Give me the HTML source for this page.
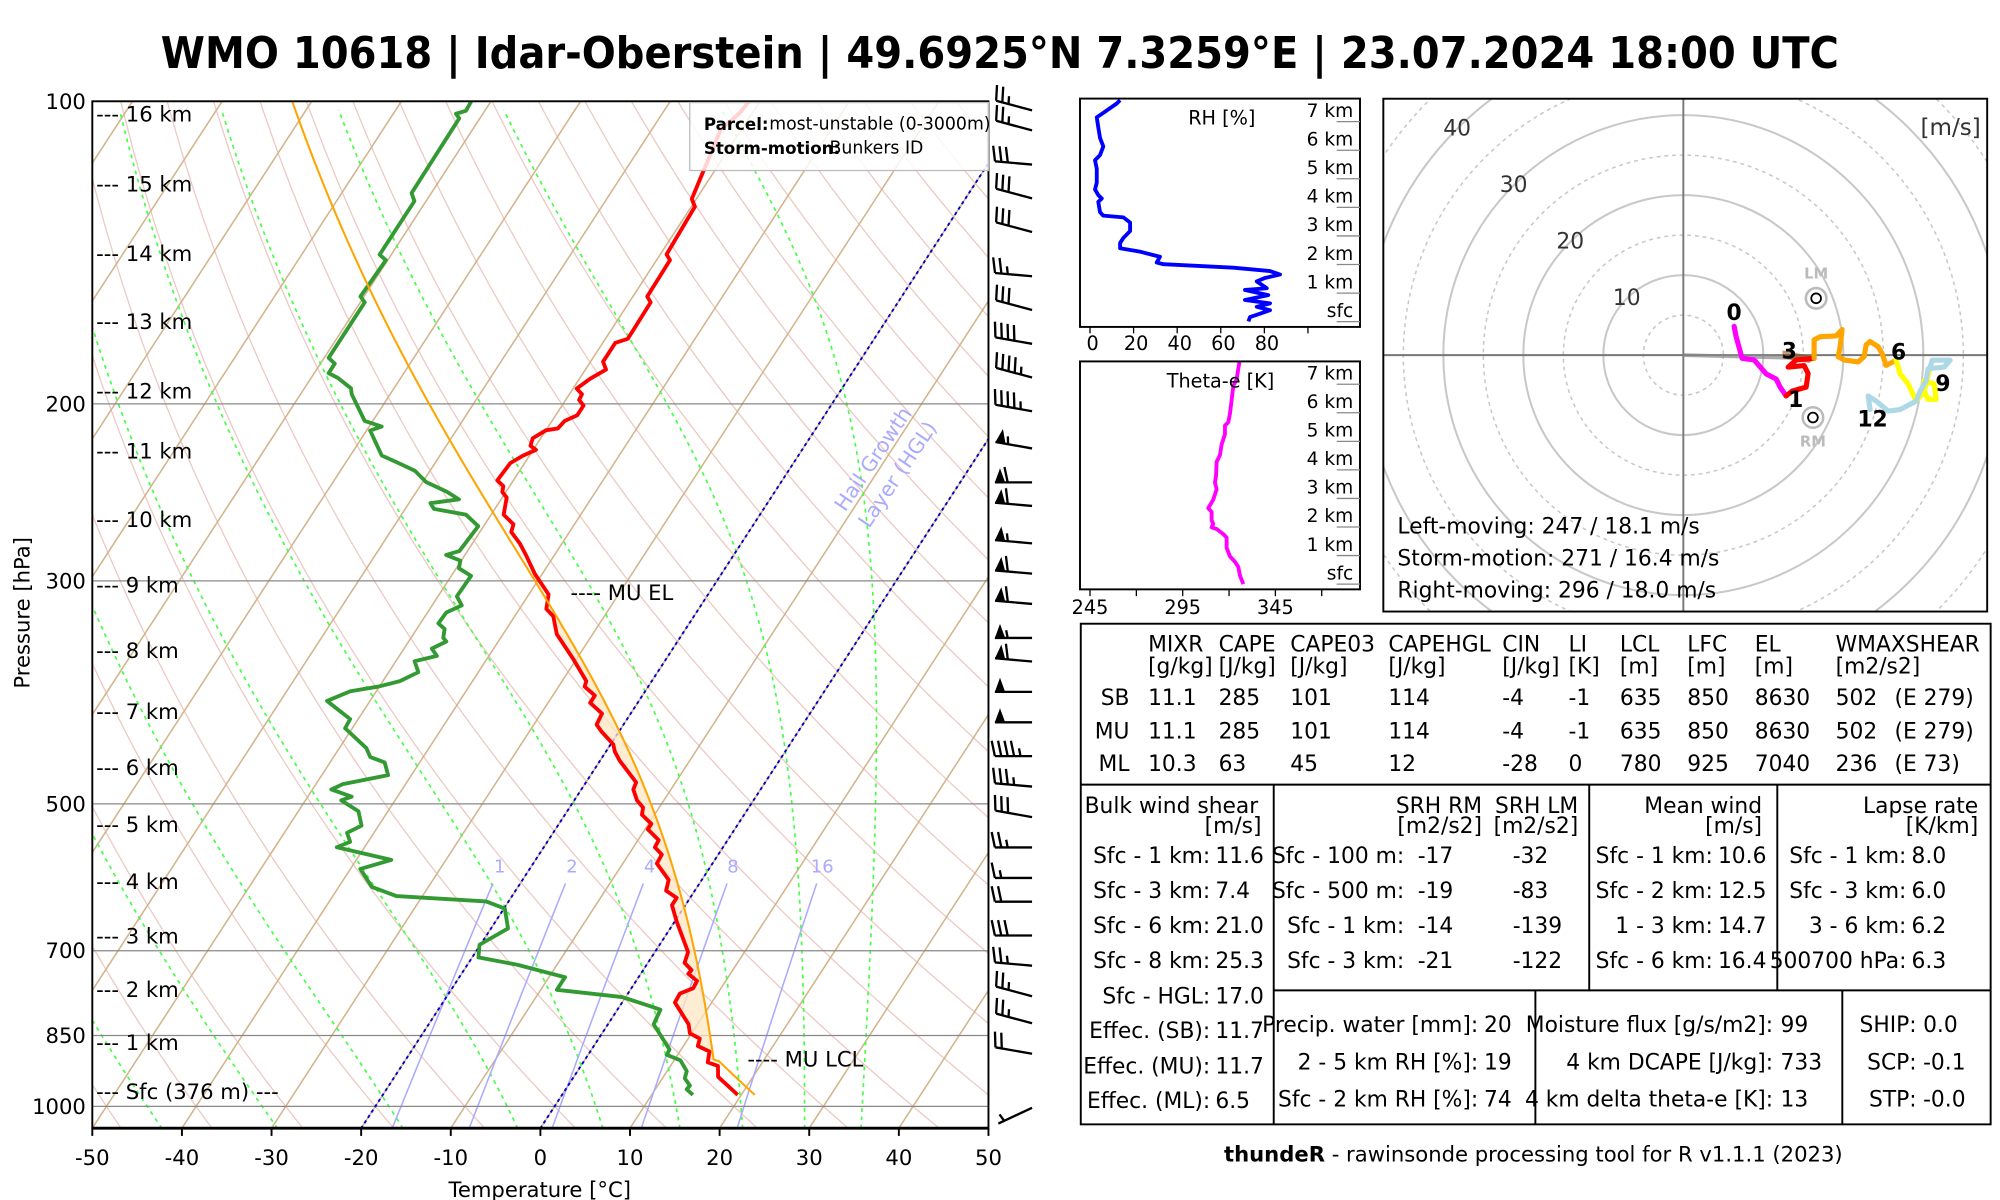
<!DOCTYPE html>
<html><head><meta charset="utf-8"><title>Sounding</title>
<style>html,body{margin:0;padding:0;background:#fff;}svg{display:block;font-family:"DejaVu Sans","Liberation Sans",sans-serif;}</style>
</head><body>
<svg id="root" xmlns="http://www.w3.org/2000/svg" width="2000" height="1200" viewBox="0 0 1560 936">
<rect x="0" y="0" width="1560" height="936" fill="#fff"/>
<text x="125.4" y="53" font-size="34" font-weight="bold" textLength="1309" lengthAdjust="spacingAndGlyphs">WMO 10618 | Idar-Oberstein | 49.6925°N 7.3259°E | 23.07.2024 18:00 UTC</text>
<defs>
<clipPath id="skewclip"><rect x="72" y="79" width="699" height="801"/></clipPath>
<clipPath id="hodoclip"><rect x="1079" y="77" width="471" height="400"/></clipPath>
</defs>
<g id="skew" clip-path="url(#skewclip)"></g>
<g id="skewover"></g>
<g id="barbs"></g>
<g id="rh"></g>
<g id="the"></g>
<g id="hodo"></g>
<g id="table" font-size="17"></g>
<text x="1196" y="906" font-size="16.5" text-anchor="middle"><tspan font-weight="bold">thundeR</tspan> - rawinsonde processing tool for R v1.1.1 (2023)</text>
</svg>
<script>
// ---------- DATA ----------
const P_TEMP = [100,102.7,106.8,125.1,127.3,142.0,143.9,156.4,158.5,172.3,173.9,181.6,184.9,188.8,193.1,195.6,198.2,200.8,205.3,208.0,211.6,212.5,216.4,220.2,222.2,225.1,229.1,238.3,241.5,244.7,247.9,257.8,263.6,268.2,275.4,282.7,295.4,309.5,319.9,325.3,339.0,359.2,377.5,382.2,390.2,396.7,406.6,417.0,424.0,436.4,443.7,453.0,476.0,483.8,496.0,504.3,512.7,523.4,530.0,543.3,552.3,561.6,573.3,595.1,610.1,620.2,630.6,654.5,702.1,719.8,731.8,737.9,750.2,762.8,772.2,788.3,828.5,845.8,856.4,870.8,881.7,904.0,911.5,934.4,957.9,973.9];
const T_TEMP = [-51.2,-51.4,-52.3,-50.5,-49.6,-49.3,-48.5,-48.4,-47.6,-47.5,-48.6,-48.6,-47.7,-48.8,-49.6,-48.6,-48.5,-47.6,-47.6,-48.6,-48.8,-50.0,-50.9,-50.6,-49.7,-50.7,-51.6,-51.8,-50.7,-50.4,-49.5,-48.6,-46.8,-46.5,-44.7,-43.2,-40.8,-37.8,-37.0,-35.7,-34.0,-30.3,-27.3,-27.1,-25.3,-25.3,-23.2,-23.0,-21.9,-19.7,-19.0,-17.8,-14.4,-14.2,-13.0,-11.8,-11.4,-9.7,-9.7,-7.7,-7.6,-6.3,-6.2,-3.7,-3.2,-1.5,-1.5,0.2,3.7,4.1,5.4,5.3,6.8,6.9,5.8,5.9,9.0,9.8,11.3,11.6,13.3,13.9,15.3,16.1,18.2,19.6];
const P_DEW = [100,102.2,102.9,104.0,123.4,125.7,142.1,143.9,156.4,158.5,180.0,182.4,186.4,188.5,193.0,195.6,208.0,210.7,212.6,225.1,229.0,233.1,239.3,244.6,248.9,251.1,254.4,257.8,264.7,280.2,282.7,286.4,291.5,296.6,310.8,317.3,322.6,330.7,334.9,341.9,344.7,350.4,356.3,360.7,369.8,377.5,382.2,386.3,395.0,411.8,420.5,440.0,449.2,454.8,468.2,477.9,483.8,491.9,496.0,508.5,525.6,534.3,545.5,552.3,568.5,580.4,604.9,617.6,625.3,635.6,665.2,690.5,710.8,722.7,743.8,765.6,778.4,794.8,801.2,828.5,852.7,877.7,888.7,899.8,922.5,937.9,953.5,961.5,973.9];
const T_DEW = [-82.2,-82.1,-83.0,-82.3,-82.2,-81.3,-81.3,-80.2,-80.4,-79.5,-79.5,-78.4,-78.4,-77.0,-74.8,-74.3,-70.9,-68.6,-69.6,-66.5,-64.1,-61.7,-59.6,-56.6,-54.7,-57.6,-56.8,-52.8,-50.6,-50.9,-52.1,-50.1,-49.7,-47.8,-47.9,-46.7,-47.9,-48.0,-46.9,-46.4,-45.8,-46.9,-45.8,-47.9,-46.7,-48.1,-50.1,-52.9,-54.8,-50.9,-50.8,-47.0,-45.9,-43.9,-42.6,-47.0,-47.9,-45.1,-46.0,-43.3,-41.9,-43.0,-42.0,-43.1,-36.1,-38.9,-36.3,-32.9,-22.5,-19.9,-18.1,-20.1,-19.3,-14.5,-8.2,-8.2,-0.4,3.4,4.8,5.1,6.9,8.7,8.8,10.7,12.2,12.5,13.6,13.5,14.6];
const PARCEL_START = [974, 21.5];   // hPa, degC
const PARCEL_LCL = 900;             // hPa
const PARCEL_MOIST_OFFSET = -0.5;   // degC
const PARCEL_EL = 310;              // hPa
const MOIST_T0 = [-42.2,-29.3,-15.3,-2.5,7.0,15.6,22.6,29.5,35.8]; // degC at 1052 hPa
const MIXR = [1,2,4,8,16];
const X_TICKS = [-50,-40,-30,-20,-10,0,10,20,30,40,50];
const P_TICKS = [100,200,300,500,700,850,1000];
const KM_LABELS = ['16 km','15 km','14 km','13 km','12 km','11 km','10 km','9 km','8 km','7 km','6 km','5 km','4 km','3 km','2 km','1 km'];
const KM_P = [103.0,120.8,141.7,165.6,194.2,222.8,260.6,303.0,351.8,404.7,460.3,524.1,597.7,676.8,765.1,864.1];
const SFC_P = 966.7;
const BARB_P = [102.1,106.9,115.6,124.9,134.9,149.3,161.3,174.3,188.3,203.4,221.5,239.4,252.7,275.3,295.1,316.3,341.9,360.9,386.9,414.8,448.2,480.6,515.4,552.5,592.5,625.6,676.0,724.4,777.0,826.6,886.4,1003.2];
const BARB_SPD = [25,25,30,30,30,25,30,40,45,45,55,60,60,55,60,60,55,60,50,50,45,35,30,25,15,20,30,25,25,25,20,5];
const BARB_DIR = [285,285,275,285,285,275,285,280,285,280,280,270,275,275,275,275,270,275,270,270,270,275,280,270,270,270,270,275,285,285,280,245];
const RH_VAL = [13.8,12.2,5.4,3.1,3.8,4.6,6.1,4.6,2.3,3.1,3.1,2.3,3.8,5.4,3.8,4.6,6.1,15.3,18.4,18.4,15.3,13.8,13.8,22.9,29.1,32.1,30.6,33.7,65.8,82.6,87.2,80.3,76.5,81.1,71.1,81.8,71.1,82.6,76.5,82.6,78.0,73.4,72.7];
const RH_H = [7.75,7.63,7.27,7.15,6.8,6.43,6.13,5.83,5.65,5.35,4.86,4.63,4.43,4.31,4.19,3.83,3.71,3.65,3.47,3.17,2.93,2.75,2.57,2.45,2.33,2.27,2.07,2.01,1.89,1.77,1.65,1.53,1.41,1.17,1.11,0.93,0.76,0.64,0.52,0.4,0.28,0.16,0.01];
const THE_VAL = [325.6,324.1,322.3,321.4,320.5,319.6,317.8,317.8,316.0,315.1,313.3,313.0,312.4,313.3,311.5,308.8,310.6,310.6,311.5,310.6,313.3,316.9,318.7,318.7,320.5,323.2,325.0,325.9,327.7];
const THE_H = [7.78,7.18,6.94,6.45,5.97,5.67,5.55,5.25,4.89,4.52,4.28,3.80,3.56,3.32,2.96,2.66,2.53,2.23,2.11,1.99,1.93,1.75,1.63,1.27,0.97,0.78,0.60,0.30,0.0];
const HODO_U0 = [6.35,6.6,7.35,8.85,10.35,11.6,12.1,12.85];
const HODO_V0 = [3.6,2.3,-0.4,-0.6,-2.34,-2.98,-4.0,-5.1];
const HODO_U1 = [12.85,13.6,15.35,15.6,15.1,13.1,14.1,16.35];
const HODO_V1 = [-5.1,-4.5,-4.0,-2.3,-1.3,-1.5,-0.6,-0.4];
const HODO_U3 = [16.35,16.35,17.1,19.1,19.85,19.6,19.35,20.1,21.85,22.6,22.85,23.35,24.35,24.85,25.35,26.6];
const HODO_V3 = [-0.4,1.9,2.3,2.4,3.2,1.06,-0.2,-0.6,-0.85,-0.2,1.28,1.7,1.06,0.2,-1.28,-0.64];
const HODO_U6 = [26.6,27.1,28.1,29.1,29.85,30.1,31.35,31.6,30.6,30.1,30.85];
const HODO_V6 = [-0.64,-2.34,-3.6,-5.74,-4.9,-3.2,-3.6,-5.53,-5.53,-4.5,-1.5];
const HODO_U9 = [30.85,31.1,33.35,32.6,30.6,30.35,29.6,29.1,27.1,25.6,24.1,23.1,23.35];
const HODO_V9 = [-1.5,-0.64,-0.64,-1.5,-1.7,-3.2,-4.5,-5.74,-6.8,-7.0,-5.74,-5.1,-6.8];
const STORM_LM = [16.6,7.1];
const STORM_RM = [16.2,-7.8];

// ---------- helpers ----------
const NS='http://www.w3.org/2000/svg';
function mk(parent, tag, attrs){const e=document.createElementNS(NS,tag);for(const k in attrs)e.setAttribute(k,attrs[k]);parent.appendChild(e);return e;}
function txt(parent, x, y, s, attrs){const e=mk(parent,'text',Object.assign({x:x,y:y},attrs||{}));e.textContent=s;return e;}
const Yp = p => 79 + 784*Math.log10(p/100);
const Xt = (T,p) => 72 + (T+50)*6.99 + (880 - Yp(p))*0.65;
const pts = arr => arr.map(a=>a[0].toFixed(2)+','+a[1].toFixed(2)).join(' ');
function pressures(p0,p1,step){const r=[];for(let p=p0;p>=p1;p-=step)r.push(p);r.push(p1);return r;}
function dTdp(T,p){const Tc=T-273.15;const es=6.112*Math.exp(17.67*Tc/(Tc+243.5));const rs=0.622*es/(p-es);
  return (287.04*T+2.501e6*rs)/(1005.7+(2.501e6*2.501e6*rs*0.622)/(287.04*T*T))/p;}
function moist(TcStart,p0,p1){const out=[];let T=TcStart+273.15;for(let p=p0;p>=p1;p-=1){out.push([p,T-273.15]);T-=dTdp(T,p);}return out;}
function interpT(P,T,p){for(let i=0;i<P.length-1;i++){if(p>=P[i]&&p<=P[i+1]){const f=(Math.log(p)-Math.log(P[i]))/(Math.log(P[i+1])-Math.log(P[i]));return T[i]+f*(T[i+1]-T[i]);}}return p<P[0]?T[0]:T[T.length-1];}

// ---------- Skew-T background ----------
const sk=document.getElementById('skew');
for(let th=-50; th<=260; th+=10){
  const a=pressures(1052,100,10).map(p=>[Xt((th+273.15)*Math.pow(p/1000,0.2857)-273.15,p),Yp(p)]);
  const e=mk(sk,'polyline',{points:pts(a),fill:'none',stroke:'#ecc9c2','stroke-width':1});
  
  
}
for(let T=-160; T<=50; T+=10){
  const e=mk(sk,'line',{x1:Xt(T,1052),y1:Yp(1052),x2:Xt(T,100),y2:Yp(100),stroke:'#d2b48c','stroke-width':1.2});
  
  
}
MOIST_T0.forEach(t0=>{
  const a=moist(t0,1052,100).filter((d,i)=>i%5===0).map(d=>[Xt(d[1],d[0]),Yp(d[0])]);
  const e=mk(sk,'polyline',{points:pts(a),fill:'none',stroke:'#44ff44','stroke-width':1.3,'stroke-dasharray':'3,3.5'});
  
  
});
MIXR.forEach(w=>{
  const td=p=>{const e=w*p/(622+w);const l=Math.log(e/6.112);return 243.5*l/(17.67-l);};
  const a=pressures(1052,600,10).map(p=>[Xt(td(p),p),Yp(p)]);
  const e=mk(sk,'polyline',{points:pts(a),fill:'none',stroke:'#aaaaff','stroke-width':1.2});
  
  
  const t=txt(sk,Xt(td(578),578),Yp(578),String(w),{'font-size':14,fill:'#aaaaff','text-anchor':'middle','dominant-baseline':'central'});
  
  
});
P_TICKS.forEach(p=>{
  if(p===100)return;
  const e=mk(sk,'line',{x1:72,x2:771,y1:Yp(p),y2:Yp(p),stroke:'#888','stroke-width':1});
  
  
});
[-20,0].forEach(T=>{
  const e=mk(sk,'line',{x1:Xt(T,1052),y1:Yp(1052),x2:Xt(T,100),y2:Yp(100),stroke:'#0000cc','stroke-width':1.5,'stroke-dasharray':'2.5,2.5'});
  
  
});
const hg1=txt(sk,681,358,'Hail Growth',{'font-size':16,fill:'#aaaaff','text-anchor':'middle','dominant-baseline':'central',transform:'rotate(-56 681 358)'});


const hg2=txt(sk,700,370,'Layer (HGL)',{'font-size':16,fill:'#aaaaff','text-anchor':'middle','dominant-baseline':'central',transform:'rotate(-56 700 370)'});



// parcel
const lclT=(PARCEL_START[1]+273.15)*Math.pow(PARCEL_LCL/PARCEL_START[0],0.2857)-273.15;
const moistParcel=moist(lclT+PARCEL_MOIST_OFFSET,PARCEL_LCL,100);
function parcelT(p){if(p>=PARCEL_LCL)return (PARCEL_START[1]+273.15)*Math.pow(p/PARCEL_START[0],0.2857)-273.15;const i=Math.min(moistParcel.length-1,Math.round(PARCEL_LCL-p));return moistParcel[i][1];}
const shadeP=pressures(PARCEL_LCL,PARCEL_EL,4);
const up=shadeP.map(p=>[Math.max(Xt(parcelT(p),p),Xt(interpT(P_TEMP,T_TEMP,p),p)),Yp(p)]);
const dn=shadeP.slice().reverse().map(p=>[Xt(interpT(P_TEMP,T_TEMP,p),p),Yp(p)]);
const shade=mk(sk,'polygon',{points:pts(up.concat(dn)),fill:'#fde6c4','fill-opacity':0.75,stroke:'none'});


const dew=mk(sk,'polyline',{points:pts(P_DEW.map((p,i)=>[Xt(T_DEW[i],p),Yp(p)])),fill:'none',stroke:'#339933','stroke-width':3,'stroke-linejoin':'round'});


const tmp=mk(sk,'polyline',{points:pts(P_TEMP.map((p,i)=>[Xt(T_TEMP[i],p),Yp(p)])),fill:'none',stroke:'#ff0000','stroke-width':3,'stroke-linejoin':'round'});


const parP=pressures(PARCEL_START[0],100,4);
const par=mk(sk,'polyline',{points:pts(parP.map(p=>[Xt(parcelT(p),p),Yp(p)])),fill:'none',stroke:'#ffa500','stroke-width':1.6});



// ---------- axes ----------
const ov=document.getElementById('skewover');
const frame=mk(ov,'rect',{x:72,y:79,width:699,height:801,fill:'none',stroke:'#000','stroke-width':1.5});


const bax=mk(ov,'line',{x1:72,x2:771,y1:880,y2:880,stroke:'#000','stroke-width':2.2});


X_TICKS.forEach(T=>{
  const x=72+(T+50)*6.99;
  const t=mk(ov,'line',{x1:x,x2:x,y1:880,y2:886,stroke:'#000','stroke-width':1.5});
  
  
  const l=txt(ov,x,903,String(T),{'font-size':16.5,'text-anchor':'middle','dominant-baseline':'central'});
  
  
});
P_TICKS.forEach(p=>{
  const l=txt(ov,67,Yp(p),String(p),{'font-size':16.5,'text-anchor':'end','dominant-baseline':'central'});
  
  
});
KM_LABELS.forEach((s,i)=>{
  const l=txt(ov,75,Yp(KM_P[i]),'--- '+s,{'font-size':16.5,'dominant-baseline':'central'});
  
  
});
const sfcl=txt(ov,75,Yp(SFC_P),'--- Sfc (376 m) ---',{'font-size':16.5,'dominant-baseline':'central'});


const xt=txt(ov,421,928,'Temperature [°C]',{'font-size':16.5,'text-anchor':'middle','dominant-baseline':'central'});


const yt=txt(ov,17,478,'Pressure [hPa]',{'font-size':16.5,'text-anchor':'middle','dominant-baseline':'central',transform:'rotate(-90 17 478)'});


const el=txt(ov,445,Yp(PARCEL_EL)-2,'---- MU EL',{'font-size':16.5,'dominant-baseline':'central'});


const lcl=txt(ov,583,Yp(PARCEL_LCL)-1,'---- MU LCL',{'font-size':16.5,'dominant-baseline':'central'});


const lg=mk(ov,'rect',{x:538,y:80,width:233,height:53,fill:'#fff','fill-opacity':0.82,stroke:'#bbb','stroke-width':1});


const lg1=txt(ov,549,97,'Parcel:',{'font-size':13,'font-weight':'bold','dominant-baseline':'central'});


const lg2=txt(ov,600,97,'most-unstable (0-3000m)',{'font-size':13.5,'dominant-baseline':'central'});


const lg3=txt(ov,549,116,'Storm-motion:',{'font-size':13,'font-weight':'bold','dominant-baseline':'central'});


const lg4=txt(ov,647,116,'Bunkers ID',{'font-size':13.5,'dominant-baseline':'central'});



// ---------- wind barbs ----------
const bg=document.getElementById('barbs');
BARB_P.forEach((p,i)=>{
  const sx=805, sy=Yp(p), d=BARB_DIR[i]*Math.PI/180, L=29;
  const vx=Math.sin(d), vy=-Math.cos(d);
  const px=-vy, py=vx;
  const ex=sx+L*vx, ey=sy+L*vy;
  const g=mk(bg,'g',{});
  
  
  mk(g,'line',{x1:sx,y1:sy,x2:ex,y2:ey,stroke:'#000','stroke-width':1.8});
  let sp=BARB_SPD[i];
  const pen=Math.floor(sp/50); sp-=pen*50;
  const full=Math.floor(sp/10); sp-=full*10;
  const half=sp>=5?1:0;
  let s=0;
  const at=s=>[ex-s*vx, ey-s*vy];
  for(let k=0;k<pen;k++){
    const a=at(s), b=at(s+8), m=at(s+4);
    mk(g,'polygon',{points:pts([a,b,[m[0]+px*11,m[1]+py*11]]),fill:'#000'});
    s+=10;
  }
  for(let k=0;k<full;k++){
    const a=at(s);
    mk(g,'line',{x1:a[0],y1:a[1],x2:a[0]+px*12+vx*2.5,y2:a[1]+py*12+vy*2.5,stroke:'#000','stroke-width':1.8});
    s+=5;
  }
  if(half){
    if(pen===0&&full===0)s=5;
    const a=at(s);
    mk(g,'line',{x1:a[0],y1:a[1],x2:a[0]+px*6+vx*1.2,y2:a[1]+py*6+vy*1.2,stroke:'#000','stroke-width':1.8});
  }
});

// ---------- RH panel ----------
const rh=document.getElementById('rh');
const RHX=v=>850.2+v*1.7, RHY=h=>250.9-h*22.29;
const rhl=mk(rh,'polyline',{points:pts(RH_VAL.map((v,i)=>[RHX(v),RHY(RH_H[i])])),fill:'none',stroke:'#0000ff','stroke-width':3,'stroke-linejoin':'round'});


const rhb=mk(rh,'rect',{x:842.4,y:76.9,width:218.4,height:178.1,fill:'none',stroke:'#000','stroke-width':1.5});


[0,20,40,60,80,100].forEach(v=>{
  const t=mk(rh,'line',{x1:RHX(v),x2:RHX(v),y1:255,y2:260,stroke:'#000','stroke-width':1});
  
  
  if(v<100){const l=txt(rh,RHX(v)+2,268,String(v),{'font-size':15,'text-anchor':'middle','dominant-baseline':'central'});
  
  }
});
const rht=txt(rh,953,92,'RH [%]',{'font-size':15,'text-anchor':'middle','dominant-baseline':'central'});


['sfc','1 km','2 km','3 km','4 km','5 km','6 km','7 km'].forEach((s,k)=>{
  const y=RHY(k);
  const ln=mk(rh,'line',{x1:1042.6,x2:1060.8,y1:y,y2:y,stroke:'#888','stroke-width':1});
  
  
  const l=txt(rh,1055.5,y-8,s,{'font-size':14.5,'text-anchor':'end','dominant-baseline':'central'});
  
  
});

// ---------- Theta-e panel ----------
const th=document.getElementById('the');
const THX=v=>850.2+(v-245)*1.446, THY=h=>455.6-h*22.27;
const thl=mk(th,'polyline',{points:pts(THE_VAL.map((v,i)=>[THX(v),THY(THE_H[i])])),fill:'none',stroke:'#ff00ff','stroke-width':3,'stroke-linejoin':'round'});


const thb=mk(th,'rect',{x:842.4,y:281.9,width:218.4,height:177.8,fill:'none',stroke:'#000','stroke-width':1.5});


[245,270,295,320,345,370].forEach(v=>{
  const t=mk(th,'line',{x1:THX(v),x2:THX(v),y1:459.7,y2:465,stroke:'#000','stroke-width':1});
  
  
  if((v-245)%50===0){const l=txt(th,THX(v),474,String(v),{'font-size':15,'text-anchor':'middle','dominant-baseline':'central'});
  
  }
});
const tht=txt(th,952,297,'Theta-e [K]',{'font-size':15,'text-anchor':'middle','dominant-baseline':'central'});


['sfc','1 km','2 km','3 km','4 km','5 km','6 km','7 km'].forEach((s,k)=>{
  const y=THY(k);
  const ln=mk(th,'line',{x1:1042.6,x2:1060.8,y1:y,y2:y,stroke:'#888','stroke-width':1});
  
  
  const l=txt(th,1055.5,y-8,s,{'font-size':14.5,'text-anchor':'end','dominant-baseline':'central'});
  
  
});

// ---------- Hodograph ----------
const hd=document.getElementById('hodo');
const HX=u=>1313+u*6.24, HY=v=>277-v*6.24;
const hc=mk(hd,'g',{'clip-path':'url(#hodoclip)'});


for(let r=5;r<=60;r+=5){
  const c=mk(hc,'circle',{cx:HX(0),cy:HY(0),r:r*6.24,fill:'none',stroke:'#c8c8c8','stroke-width':r%10===0?1.6:1.2,'stroke-dasharray':r%10===0?'none':'3,3'});
  
  
}
const ax1=mk(hc,'line',{x1:1079,x2:1550,y1:HY(0),y2:HY(0),stroke:'#777','stroke-width':1.5});


const ax2=mk(hc,'line',{x1:HX(0),x2:HX(0),y1:77,y2:477,stroke:'#777','stroke-width':1.5});


[10,20,30,40].forEach(r=>{
  const l=txt(hc,HX(-r*0.707),HY(r*0.707),String(r),{'font-size':17,fill:'#333','text-anchor':'middle','dominant-baseline':'central'});
  
  
});
const shv=mk(hc,'line',{x1:HX(0),y1:HY(0),x2:HX(HODO_U3[0]),y2:HY(HODO_V3[0]),stroke:'#888','stroke-width':3,'stroke-opacity':0.7});


const wedge=mk(hc,'polygon',{points:pts([[HX(12.4),HY(0.6)],[HX(16.4),HY(-0.2)],[HX(15.8),HY(-1.0)],[HX(12.4),HY(-0.4)]]),fill:'#8b4513','fill-opacity':0.55});


[[HODO_U0,HODO_V0,'#ff00ff','hodo-segment-0-1km'],[HODO_U1,HODO_V1,'#ff0000','hodo-segment-1-3km'],[HODO_U3,HODO_V3,'#ffa500','hodo-segment-3-6km'],[HODO_U6,HODO_V6,'#ffff00','hodo-segment-6-9km'],[HODO_U9,HODO_V9,'#add8e6','hodo-segment-9-12km']].forEach(s=>{
  const e=mk(hc,'polyline',{points:pts(s[0].map((u,i)=>[HX(u),HY(s[1][i])])),fill:'none',stroke:s[2],'stroke-width':4,'stroke-linejoin':'round','stroke-linecap':'round'});
  
  
});
[['0',HODO_U0[0],HODO_V0[0]+1.6],['1',HODO_U1[0]+1.2,HODO_V1[0]-0.6],['3',HODO_U3[0]-3.1,HODO_V3[0]+0.8],['6',HODO_U6[0]+0.3,HODO_V6[0]+0.9],['9',HODO_U9[0]+1.6,HODO_V9[0]-2.2],['12',HODO_U9[12]+0.3,HODO_V9[12]-1.3]].forEach(a=>{
  const l=txt(hc,HX(a[1]),HY(a[2]),a[0],{'font-size':17,'font-weight':'bold','text-anchor':'middle','dominant-baseline':'central'});
  
  
});
[[STORM_LM,'LM',-1],[STORM_RM,'RM',1]].forEach(a=>{
  const cx=HX(a[0][0]), cy=HY(a[0][1]);
  const c1=mk(hc,'circle',{cx:cx,cy:cy,r:8,fill:'none',stroke:'#bbb','stroke-width':2});
  
  
  const c2=mk(hc,'circle',{cx:cx,cy:cy,r:3.8,fill:'none',stroke:'#000','stroke-width':1.4});
  
  
  const l=txt(hc,cx,cy+a[2]*19,a[1],{'font-size':11.5,'font-weight':'bold',fill:'#bbb','text-anchor':'middle','dominant-baseline':'central'});
  
  
});
const hu=txt(hd,1545,100,'[m/s]',{'font-size':18,fill:'#333','text-anchor':'end','dominant-baseline':'central'});


[['Left-moving: 247 / 18.1 m/s',411],['Storm-motion: 271 / 16.4 m/s',436],['Right-moving: 296 / 18.0 m/s',461]].forEach(a=>{
  const l=txt(hd,1090,a[1],a[0],{'font-size':17,'dominant-baseline':'central'});
  
  
});
const hb=mk(hd,'rect',{x:1079,y:77,width:471,height:400,fill:'none',stroke:'#000','stroke-width':1.5});



// ---------- table ----------
const tb=document.getElementById('table');
const tframe=mk(tb,'rect',{x:843,y:486.5,width:709.7,height:390.5,fill:'none',stroke:'#000','stroke-width':1.5});


[[843,612,1552.7,612],[993.5,772.5,1552.7,772.5],[993.5,612,993.5,877],[1239.6,612,1239.6,772.5],[1386.3,612,1386.3,772.5],[1197.6,772.5,1197.6,877],[1437,772.5,1437,877]].forEach(l=>{
  const e=mk(tb,'line',{x1:l[0],y1:l[1],x2:l[2],y2:l[3],stroke:'#000','stroke-width':1.5});
  
  
});
function T(x,y,s,anchor,name){const e=txt(tb,x,y,s,{'text-anchor':anchor||'start','dominant-baseline':'central'});return e;}
const colX=[895.5,950.5,1006.4,1082.9,1171.8,1223.4,1263.5,1316.1,1368.7,1431.8];
const heads=['MIXR','CAPE','CAPE03','CAPEHGL','CIN','LI','LCL','LFC','EL','WMAXSHEAR'];
const units=['[g/kg]','[J/kg]','[J/kg]','[J/kg]','[J/kg]','[K]','[m]','[m]','[m]','[m2/s2]'];
heads.forEach((h,i)=>{T(colX[i],503.2,h,'start','table-column-header');T(colX[i],520.2,units[i],'start','table-column-unit');});
const rows=[['SB','11.1','285','101','114','-4','-1','635','850','8630','502','(E 279)',545],['MU','11.1','285','101','114','-4','-1','635','850','8630','502','(E 279)',571],['ML','10.3','63','45','12','-28','0','780','925','7040','236','(E 73)',596.4]];
rows.forEach(r=>{T(881,r[12],r[0],'end','table-row-label');for(let i=0;i<10;i++)T(colX[i],r[12],r[i+1],'start','table-cell');T(1477.7,r[12],r[11],'start','table-cell');});
const RY=[668,695.5,722.6,750.1,777.5,804.7,832.2,859.0];
T(846,629.2,'Bulk wind shear','start','bulk-shear-header');T(984,644.7,'[m/s]','end','bulk-shear-unit');
[['Sfc - 1 km:','11.6'],['Sfc - 3 km:','7.4'],['Sfc - 6 km:','21.0'],['Sfc - 8 km:','25.3'],['Sfc - HGL:','17.0'],['Effec. (SB):','11.7'],['Effec. (MU):','11.7'],['Effec. (ML):','6.5']].forEach((a,i)=>{T(944,RY[i],a[0],'end','bulk-shear-label');T(948,RY[i],a[1],'start','bulk-shear-value');});
T(1156,629.2,'SRH RM','end','srh-rm-header');T(1156,644.7,'[m2/s2]','end','srh-rm-unit');
T(1231,629.2,'SRH LM','end','srh-lm-header');T(1231,644.7,'[m2/s2]','end','srh-lm-unit');
[['Sfc - 100 m:','-17','-32'],['Sfc - 500 m:','-19','-83'],['Sfc - 1 km:','-14','-139'],['Sfc - 3 km:','-21','-122']].forEach((a,i)=>{T(1095.3,RY[i],a[0],'end','srh-label');T(1105.8,RY[i],a[1],'start','srh-rm-value');T(1179.9,RY[i],a[2],'start','srh-lm-value');});
T(1374.4,629.2,'Mean wind','end','mean-wind-header');T(1374.4,644.7,'[m/s]','end','mean-wind-unit');
[['Sfc - 1 km:','10.6'],['Sfc - 2 km:','12.5'],['1 - 3 km:','14.7'],['Sfc - 6 km:','16.4']].forEach((a,i)=>{T(1336,RY[i],a[0],'end','mean-wind-label');T(1340,RY[i],a[1],'start','mean-wind-value');});
T(1543,629.2,'Lapse rate','end','lapse-rate-header');T(1543,644.7,'[K/km]','end','lapse-rate-unit');
[['Sfc - 1 km:','8.0'],['Sfc - 3 km:','6.0'],['3 - 6 km:','6.2'],['500700 hPa:','6.3']].forEach((a,i)=>{T(1487,RY[i],a[0],'end','lapse-rate-label');T(1491,RY[i],a[1],'start','lapse-rate-value');});
const BY=[800,829,858];
[['Precip. water [mm]:','20'],['2 - 5 km RH [%]:','19'],['Sfc - 2 km RH [%]:','74']].forEach((a,i)=>{T(1153,BY[i],a[0],'end','moisture-label');T(1157.5,BY[i],a[1],'start','moisture-value');});
[['Moisture flux [g/s/m2]:','99'],['4 km DCAPE [J/kg]:','733'],['4 km delta theta-e [K]:','13']].forEach((a,i)=>{T(1383,BY[i],a[0],'end','thermo-label');T(1388.8,BY[i],a[1],'start','thermo-value');});
[['SHIP:','0.0'],['SCP:','-0.1'],['STP:','-0.0']].forEach((a,i)=>{T(1495,BY[i],a[0],'end','composite-index-label');T(1500,BY[i],a[1],'start','composite-index-value');});
</script>
</body></html>
